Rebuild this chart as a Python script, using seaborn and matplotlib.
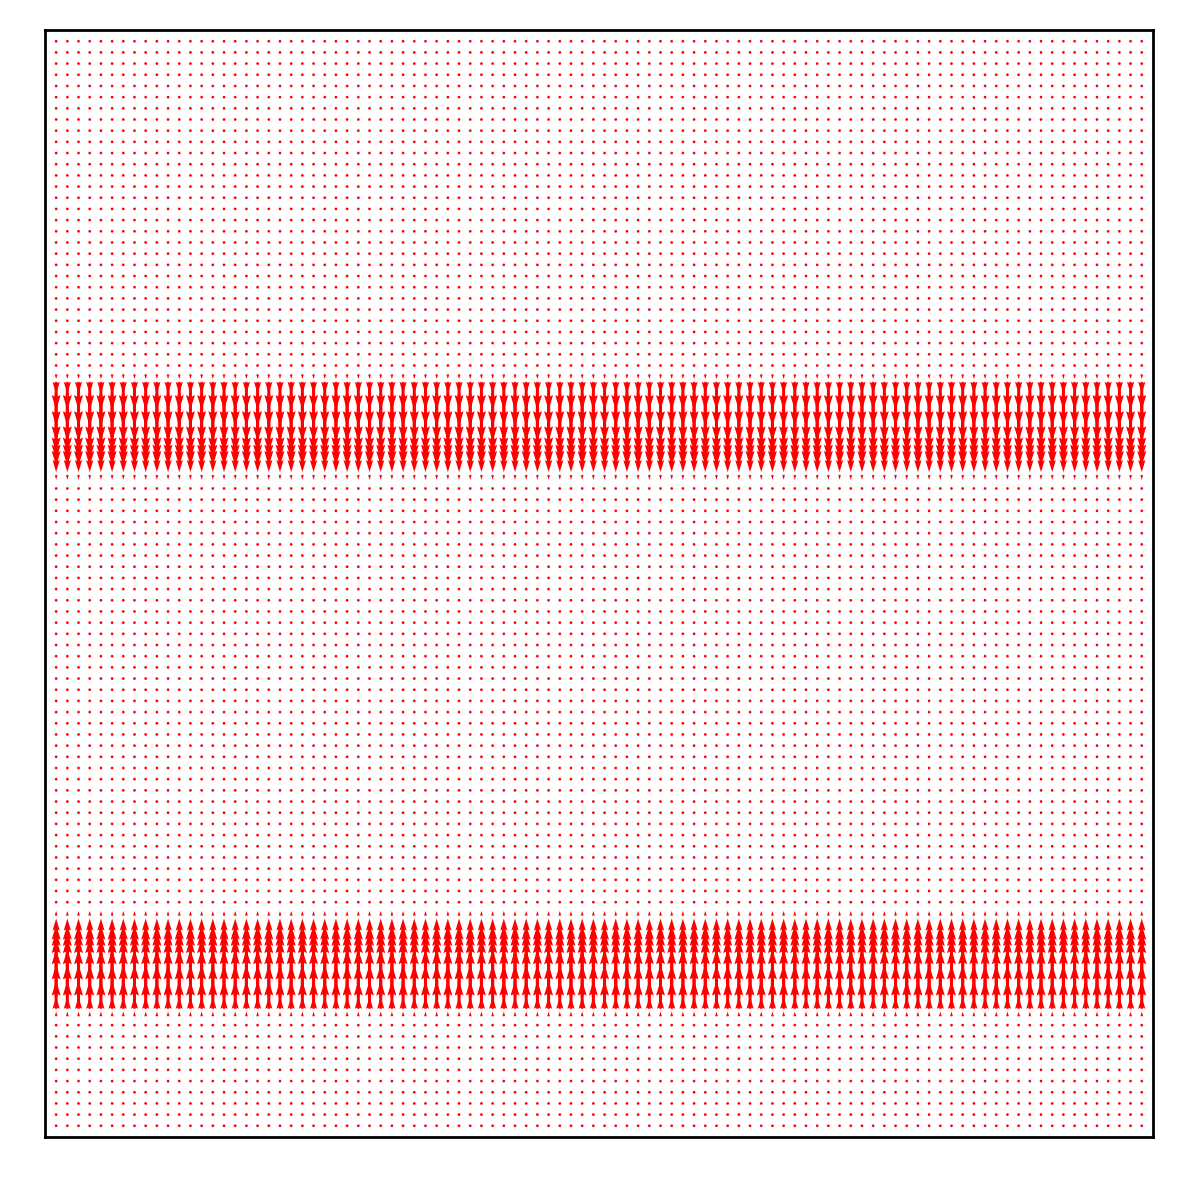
import numpy as np
import seaborn as sns
import matplotlib.pyplot as plt

# grid size (columns x rows)
n_cols = 98
n_rows = 98

# rows (counted from the bottom) that carry a vertical velocity, and its value
up_rows = [9, 10, 11, 12, 13, 14, 15, 16, 17, 18, 19, 20]
up_v = [0.05, 0.12, 0.3, 0.55, 0.8, 1.0, 1.0, 0.8, 0.55, 0.3, 0.12, 0.05]
down_rows = [57, 58, 59, 60, 61, 62, 63, 64, 65, 66, 67, 68]
down_v = [-0.05, -0.12, -0.3, -0.55, -0.8, -1.0, -1.0, -0.8, -0.55, -0.3, -0.12, -0.05]

# build the field
profile = np.zeros(n_rows)
profile[up_rows] = up_v
profile[down_rows] = down_v

x = np.arange(n_cols)
y = np.arange(n_rows)
X, Y = np.meshgrid(x, y)
U = np.zeros_like(X, dtype=float)
V = np.tile(profile[:, None], (1, n_cols))

sns.set_style('white')
fig = plt.figure(figsize=(11.83, 11.83), dpi=100)
ax = fig.add_axes([0.038, 0.0389, 0.9366, 0.9357])

# vector field
ax.quiver(X, Y, U, V, color='red', pivot='mid', angles='xy',
          scale_units='xy', scale=0.28, width=0.0027)

ax.set_xlim(-1, n_cols)
ax.set_ylim(-1, n_rows)
ax.set_xticks([])
ax.set_yticks([])
for spine in ax.spines.values():
    spine.set_color('black')
    spine.set_linewidth(2.0)

plt.savefig('out.png', dpi=100)
